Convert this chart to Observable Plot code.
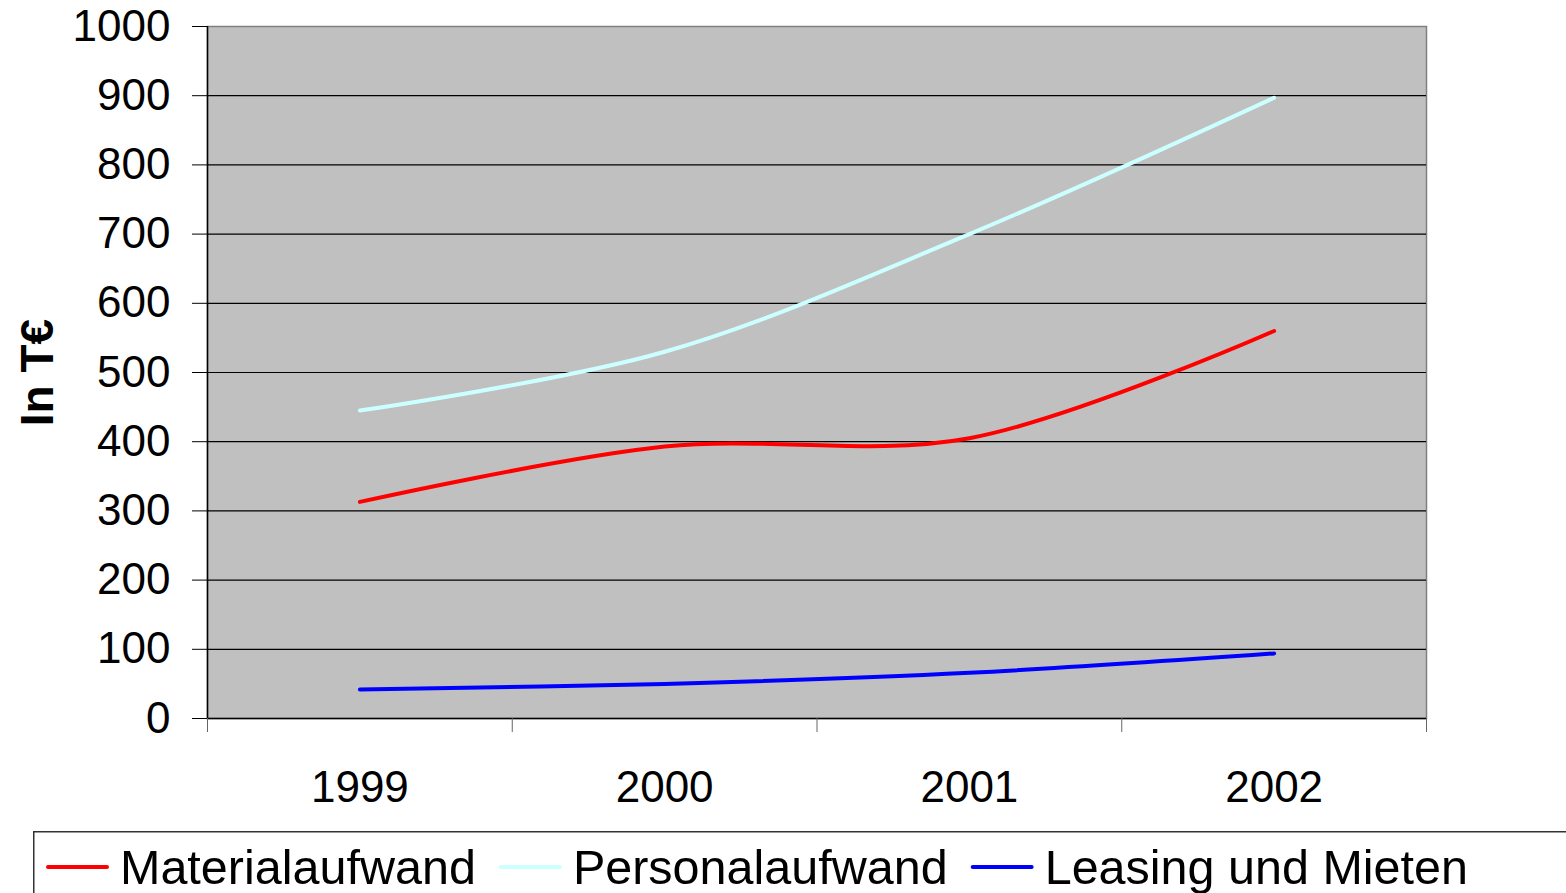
<!DOCTYPE html>
<html><head><meta charset="utf-8">
<script src="https://cdn.jsdelivr.net/npm/d3@7"></script>
<script src="https://cdn.jsdelivr.net/npm/@observablehq/plot@0.6"></script>
<style>
html,body{margin:0;padding:0;background:#fff;overflow:hidden;width:1566px;height:893px;}
#chart{position:absolute;left:0;top:0;}
#legend{position:absolute;left:33px;top:831px;}
</style></head><body>
<div id="chart"></div><div id="legend"></div>
<script>
const years = [1999, 2000, 2001, 2002];
const seriesNames = ["Materialaufwand", "Personalaufwand", "Leasing und Mieten"];
const seriesColors = ["#ff0000", "#ccffff", "#0000ff"];
const materialaufwand = [313, 393, 405, 560];
const personalaufwand = [445, 530, 700, 897];
const leasingUndMieten = [42, 50, 66, 94];
const yTicks = [0, 100, 200, 300, 400, 500, 600, 700, 800, 900, 1000];
const yLabel = "In T€";

const seriesValues = [materialaufwand, personalaufwand, leasingUndMieten];
const data = seriesNames.flatMap((name, i) =>
  seriesValues[i].map((v, j) => ({series: name, year: years[j], value: v})));
const bounds = [years[0] - 0.5, ...years.map(y => y + 0.5)];
const font = '"Liberation Sans", Arial, sans-serif';

const plot = Plot.plot({
  width: 1566, height: 820,
  marginLeft: 207, marginRight: 140, marginTop: 26, marginBottom: 102,
  style: {fontFamily: font, fontSize: "44px", color: "#000", background: "transparent"},
  x: {type: "linear", domain: [bounds[0], bounds[bounds.length - 1]], label: null},
  y: {domain: [0, 1000], label: null},
  color: {domain: seriesNames, range: seriesColors},
  marks: [
    Plot.frame({fill: "#c0c0c0", stroke: "#808080", strokeWidth: 1.5}),
    Plot.ruleY(yTicks.filter(t => t > 0 && t < 1000), {stroke: "#000", strokeWidth: 1.2}),
    Plot.ruleY([0], {stroke: "#000", strokeWidth: 1.5}),
    Plot.ruleX([bounds[0]], {stroke: "#000", strokeWidth: 1.5}),
    Plot.axisY({ticks: yTicks, tickSize: 15, tickPadding: 22, tickFormat: d => String(d), label: null, stroke: "#000", strokeOpacity: 1}),
    Plot.axisX({ticks: bounds, tickSize: 14, tickFormat: () => "", label: null, stroke: "#666", strokeOpacity: 1}),
    Plot.axisX({ticks: years, tickSize: 0, tickPadding: 52, tickFormat: d => String(d), label: null}),
    Plot.line(data, {x: "year", y: "value", z: "series", stroke: "series", curve: "catmull-rom",
      strokeWidth: 4, strokeLinecap: "round", strokeLinejoin: "round"}),
    Plot.text([yLabel], {text: d => d, frameAnchor: "left", dx: -169, rotate: -90,
      textAnchor: "middle", lineAnchor: "middle",
      fontSize: 46, fontWeight: "bold", fill: "#000"})
  ]
});
document.getElementById("chart").appendChild(plot);

const lg = d3.select("#legend").append("svg").attr("width", 1533).attr("height", 62);
lg.append("rect").attr("x", 0.75).attr("y", 0.75).attr("width", 1600).attr("height", 100)
  .attr("fill", "#fff").attr("stroke", "#333").attr("stroke-width", 1.5);
let lx = 15;
seriesNames.forEach((n, i) => {
  lg.append("line").attr("x1", lx).attr("x2", lx + 59).attr("y1", 36).attr("y2", 36)
    .attr("stroke", seriesColors[i]).attr("stroke-width", 4).attr("stroke-linecap", "round");
  const t = lg.append("text").attr("x", lx + 72).attr("y", 53)
    .attr("font-family", font).attr("font-size", 48.5).attr("fill", "#000").text(n);
  lx += 72 + t.node().getComputedTextLength() + 25;
});
</script>
</body></html>
